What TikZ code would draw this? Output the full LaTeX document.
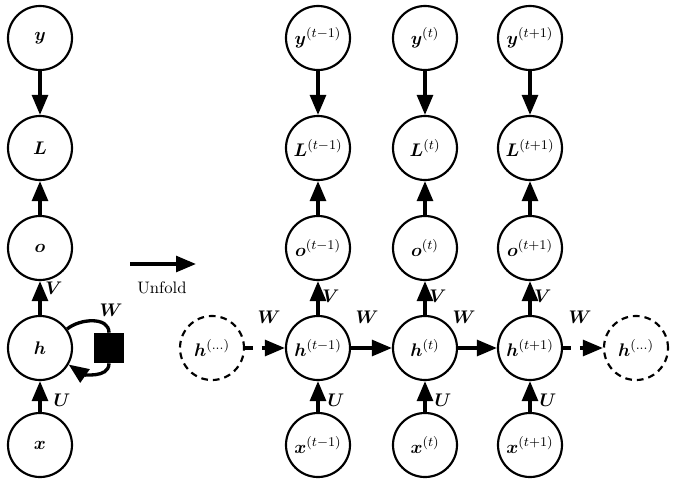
\documentclass[tikz,border=0pt]{standalone}
\usepackage{bm}
\usetikzlibrary{arrows.meta}
\tikzset{
  unit/.style={circle,draw,line width=1.3pt,minimum size=38.4pt,inner sep=0pt,font=\fontsize{11}{13}\selectfont},
  ghost/.style={unit,dashed,dash pattern=on 4pt off 3pt},
  edge/.style={line width=2pt,-{Triangle[length=12pt,width=9.5pt]}},
  lab/.style={inner sep=0pt,font=\fontsize{11}{13}\selectfont},
}
\begin{document}
\begin{tikzpicture}[x=0.6pt,y=-0.6pt]
\useasboundingbox (0,0) rectangle (677,485);
% folded
\node[unit] (y) at (40,38) {$\bm{y}$};
\node[unit] (L) at (40,148) {$\bm{L}$};
\node[unit] (o) at (40,248) {$\bm{o}$};
\node[unit] (h) at (40,348) {$\bm{h}$};
\node[unit] (x) at (40,445) {$\bm{x}$};
\node[fill=black,minimum size=18pt,inner sep=0pt] (sq) at (109,348) {};
\draw[edge] (y) -- (L);
\draw[edge] (o) -- (L);
\draw[edge] (h) -- (o);
\draw[edge] (x) -- (h);
\draw[line width=2pt] (h.35) to[out=40,in=90] (sq.north);
\draw[edge] (sq.south) to[out=-90,in=-35] (h.-30);
\node[lab] (lV) at (54,288) {$\bm{V}$};
\node[lab] (lU) at (62,400) {$\bm{U}$};
\node[lab] (lW) at (111,310) {$\bm{W}$};
% unfold
\coordinate (ua) at (130,264);
\coordinate (ub) at (196,264);
\draw[edge] (ua) -- (ub);
\node (unf) at (162,288) {Unfold};
% unfolded
\node[ghost] (hl) at (212,348) {$\bm{h}^{(\dots)}$};
\node[ghost] (hr) at (636,348) {$\bm{h}^{(\dots)}$};
\foreach \n/\c/\s in {a/318/t-1,b/425/t,c/530/t+1}{
  \node[unit] (y\n) at (\c,38) {$\bm{y}^{(\s)}$};
  \node[unit] (L\n) at (\c,148) {$\bm{L}^{(\s)}$};
  \node[unit] (o\n) at (\c,248) {$\bm{o}^{(\s)}$};
  \node[unit] (h\n) at (\c,348) {$\bm{h}^{(\s)}$};
  \node[unit] (x\n) at (\c,445) {$\bm{x}^{(\s)}$};
  \draw[edge] (y\n) -- (L\n);
  \draw[edge] (o\n) -- (L\n);
  \draw[edge] (h\n) -- (o\n);
  \draw[edge] (x\n) -- (h\n);
  \node[lab] (V\n) at (\c+13,296) {$\bm{V}$};
  \node[lab] (U\n) at (\c+18,400) {$\bm{U}$};
}
\draw[edge,dashed,dash pattern=on 5pt off 5pt] (hl) -- (ha);
\draw[edge] (ha) -- (hb);
\draw[edge] (hb) -- (hc);
\draw[edge,dashed,dash pattern=on 5pt off 5pt] (hc) -- (hr);
\node[lab] (W1) at (269,317) {$\bm{W}$};
\node[lab] (W2) at (367,317) {$\bm{W}$};
\node[lab] (W3) at (464,317) {$\bm{W}$};
\node[lab] (W4) at (580,317) {$\bm{W}$};
\end{tikzpicture}
\end{document}
